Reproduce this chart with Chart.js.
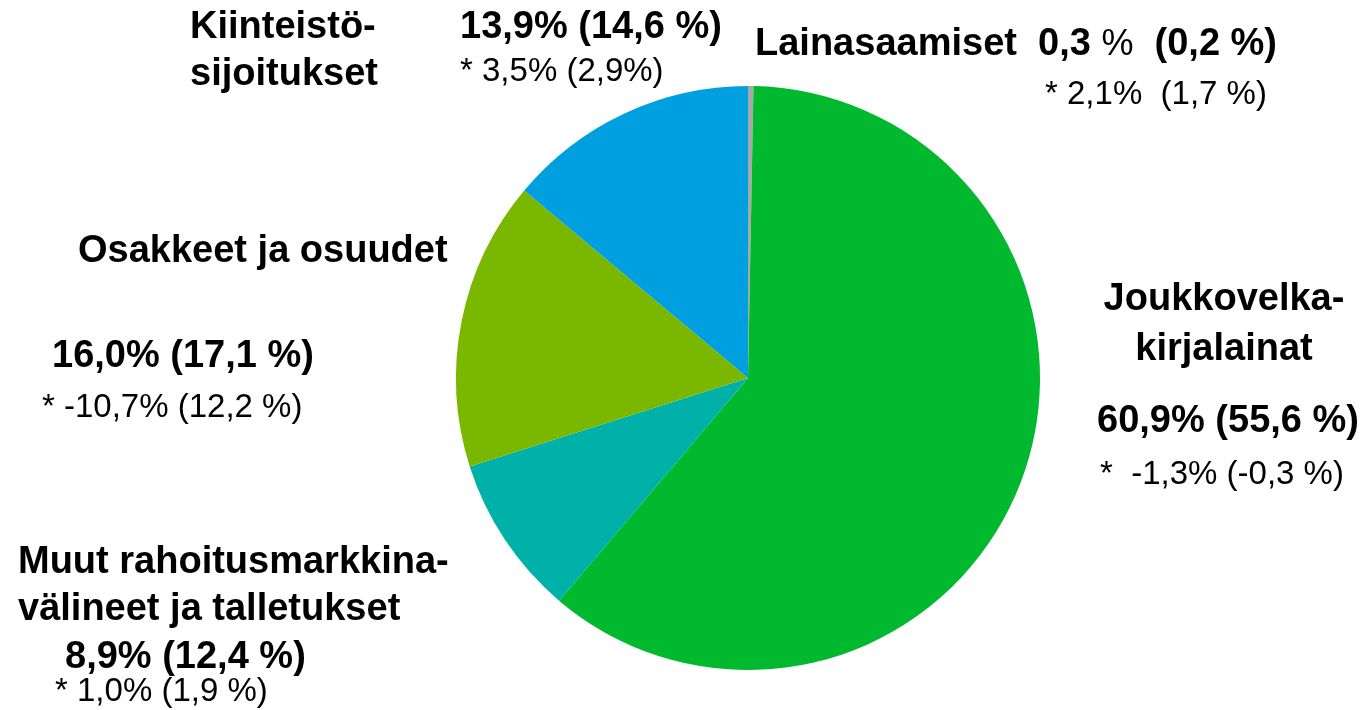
<!DOCTYPE html>
<html>
<head>
<meta charset="utf-8">
<script src="https://cdn.jsdelivr.net/npm/chart.js@4.4.0/dist/chart.umd.min.js"></script>
<style>
html,body{margin:0;padding:0;background:#fff;overflow:hidden;}
#wrap{position:relative;width:1366px;height:710px;}
</style>
</head>
<body>
<div id="wrap"><canvas id="c" width="1366" height="710"></canvas></div>
<script>
// Data
const categories = ["Lainasaamiset", "Joukkovelkakirjalainat", "Muut rahoitusmarkkinavälineet ja talletukset", "Osakkeet ja osuudet", "Kiinteistösijoitukset"];
const shares = [0.3, 60.9, 8.9, 16.0, 13.9];
const sharesPrev = ["0,2 %", "55,6 %", "12,4 %", "17,1 %", "14,6 %"];
const returns = ["* 2,1%  (1,7 %)", "*  -1,3% (-0,3 %)", "* 1,0% (1,9 %)", "* -10,7% (12,2 %)", "* 3,5% (2,9%)"];
const colors = ["#A8A8A8", "#00B92E", "#00B1AA", "#7AB800", "#00A0E0"];

// Text blocks (segments: [text, style]) style: 'b' bold, 'n' normal, 'nb' normal weight at bold size
const labelBlocks = [
  // Kiinteistösijoitukset
  {x:190, y:28, align:"left", seg:[["Kiinteistö-", "b"]]},
  {x:190, y:75, align:"left", seg:[["sijoitukset", "b"]]},
  {x:460, y:28, align:"left", seg:[["13,9% (" + sharesPrev[4] + ")", "b"]]},
  {x:460, y:72, align:"left", seg:[[returns[4], "n"]]},
  // Lainasaamiset
  {x:755, y:45, align:"left", seg:[["Lainasaamiset  0,3 ", "b"], ["%", "nb"], ["  (" + sharesPrev[0] + ")", "b"]]},
  {x:1045, y:95, align:"left", seg:[[returns[0], "n"]]},
  // Osakkeet
  {x:78, y:252, align:"left", seg:[["Osakkeet ja osuudet", "b"]]},
  {x:52, y:357, align:"left", seg:[["16,0% (" + sharesPrev[3] + ")", "b"]]},
  {x:42, y:408, align:"left", seg:[[returns[3], "n"]]},
  // Joukkovelkakirjalainat
  {x:1224, y:300, align:"center", seg:[["Joukkovelka-", "b"]]},
  {x:1224, y:350, align:"center", seg:[["kirjalainat", "b"]]},
  {x:1228, y:422, align:"center", seg:[["60,9% (" + sharesPrev[1] + ")", "b"]]},
  {x:1222, y:475, align:"center", seg:[[returns[1], "n"]]},
  // Muut
  {x:18, y:563, align:"left", seg:[["Muut rahoitusmarkkina-", "b"]]},
  {x:18, y:610, align:"left", seg:[["välineet ja talletukset", "b"]]},
  {x:65, y:658, align:"left", seg:[["8,9% (" + sharesPrev[2] + ")", "b"]]},
  {x:55, y:692, align:"left", seg:[[returns[2], "n"]]}
];

const FAM = '"Liberation Sans", Arial, sans-serif';
const FONTS = { b: 'bold 38px ' + FAM, n: '33px ' + FAM, nb: '36px ' + FAM };

const textPlugin = {
  id: 'textLabels',
  afterDraw(chart) {
    const ctx = chart.ctx;
    ctx.save();
    ctx.fillStyle = '#000';
    ctx.textBaseline = 'middle';
    ctx.textAlign = 'left';
    labelBlocks.forEach(b => {
      let total = 0;
      const widths = b.seg.map(s => { ctx.font = FONTS[s[1]]; const w = ctx.measureText(s[0]).width; total += w; return w; });
      let x = b.align === 'center' ? b.x - total / 2 : b.x;
      b.seg.forEach((s, i) => {
        ctx.font = FONTS[s[1]];
        ctx.fillText(s[0], x, b.y);
        x += widths[i];
      });
    });
    ctx.restore();
  }
};

new Chart(document.getElementById('c'), {
  type: 'pie',
  data: {
    labels: categories,
    datasets: [{ data: shares, backgroundColor: colors, borderWidth: 0 }]
  },
  options: {
    responsive: false,
    animation: false,
    layout: { padding: { left: 456, right: 326, top: 86, bottom: 40 } },
    plugins: { legend: { display: false }, tooltip: { enabled: false } }
  },
  plugins: [textPlugin]
});
</script>
</body>
</html>
